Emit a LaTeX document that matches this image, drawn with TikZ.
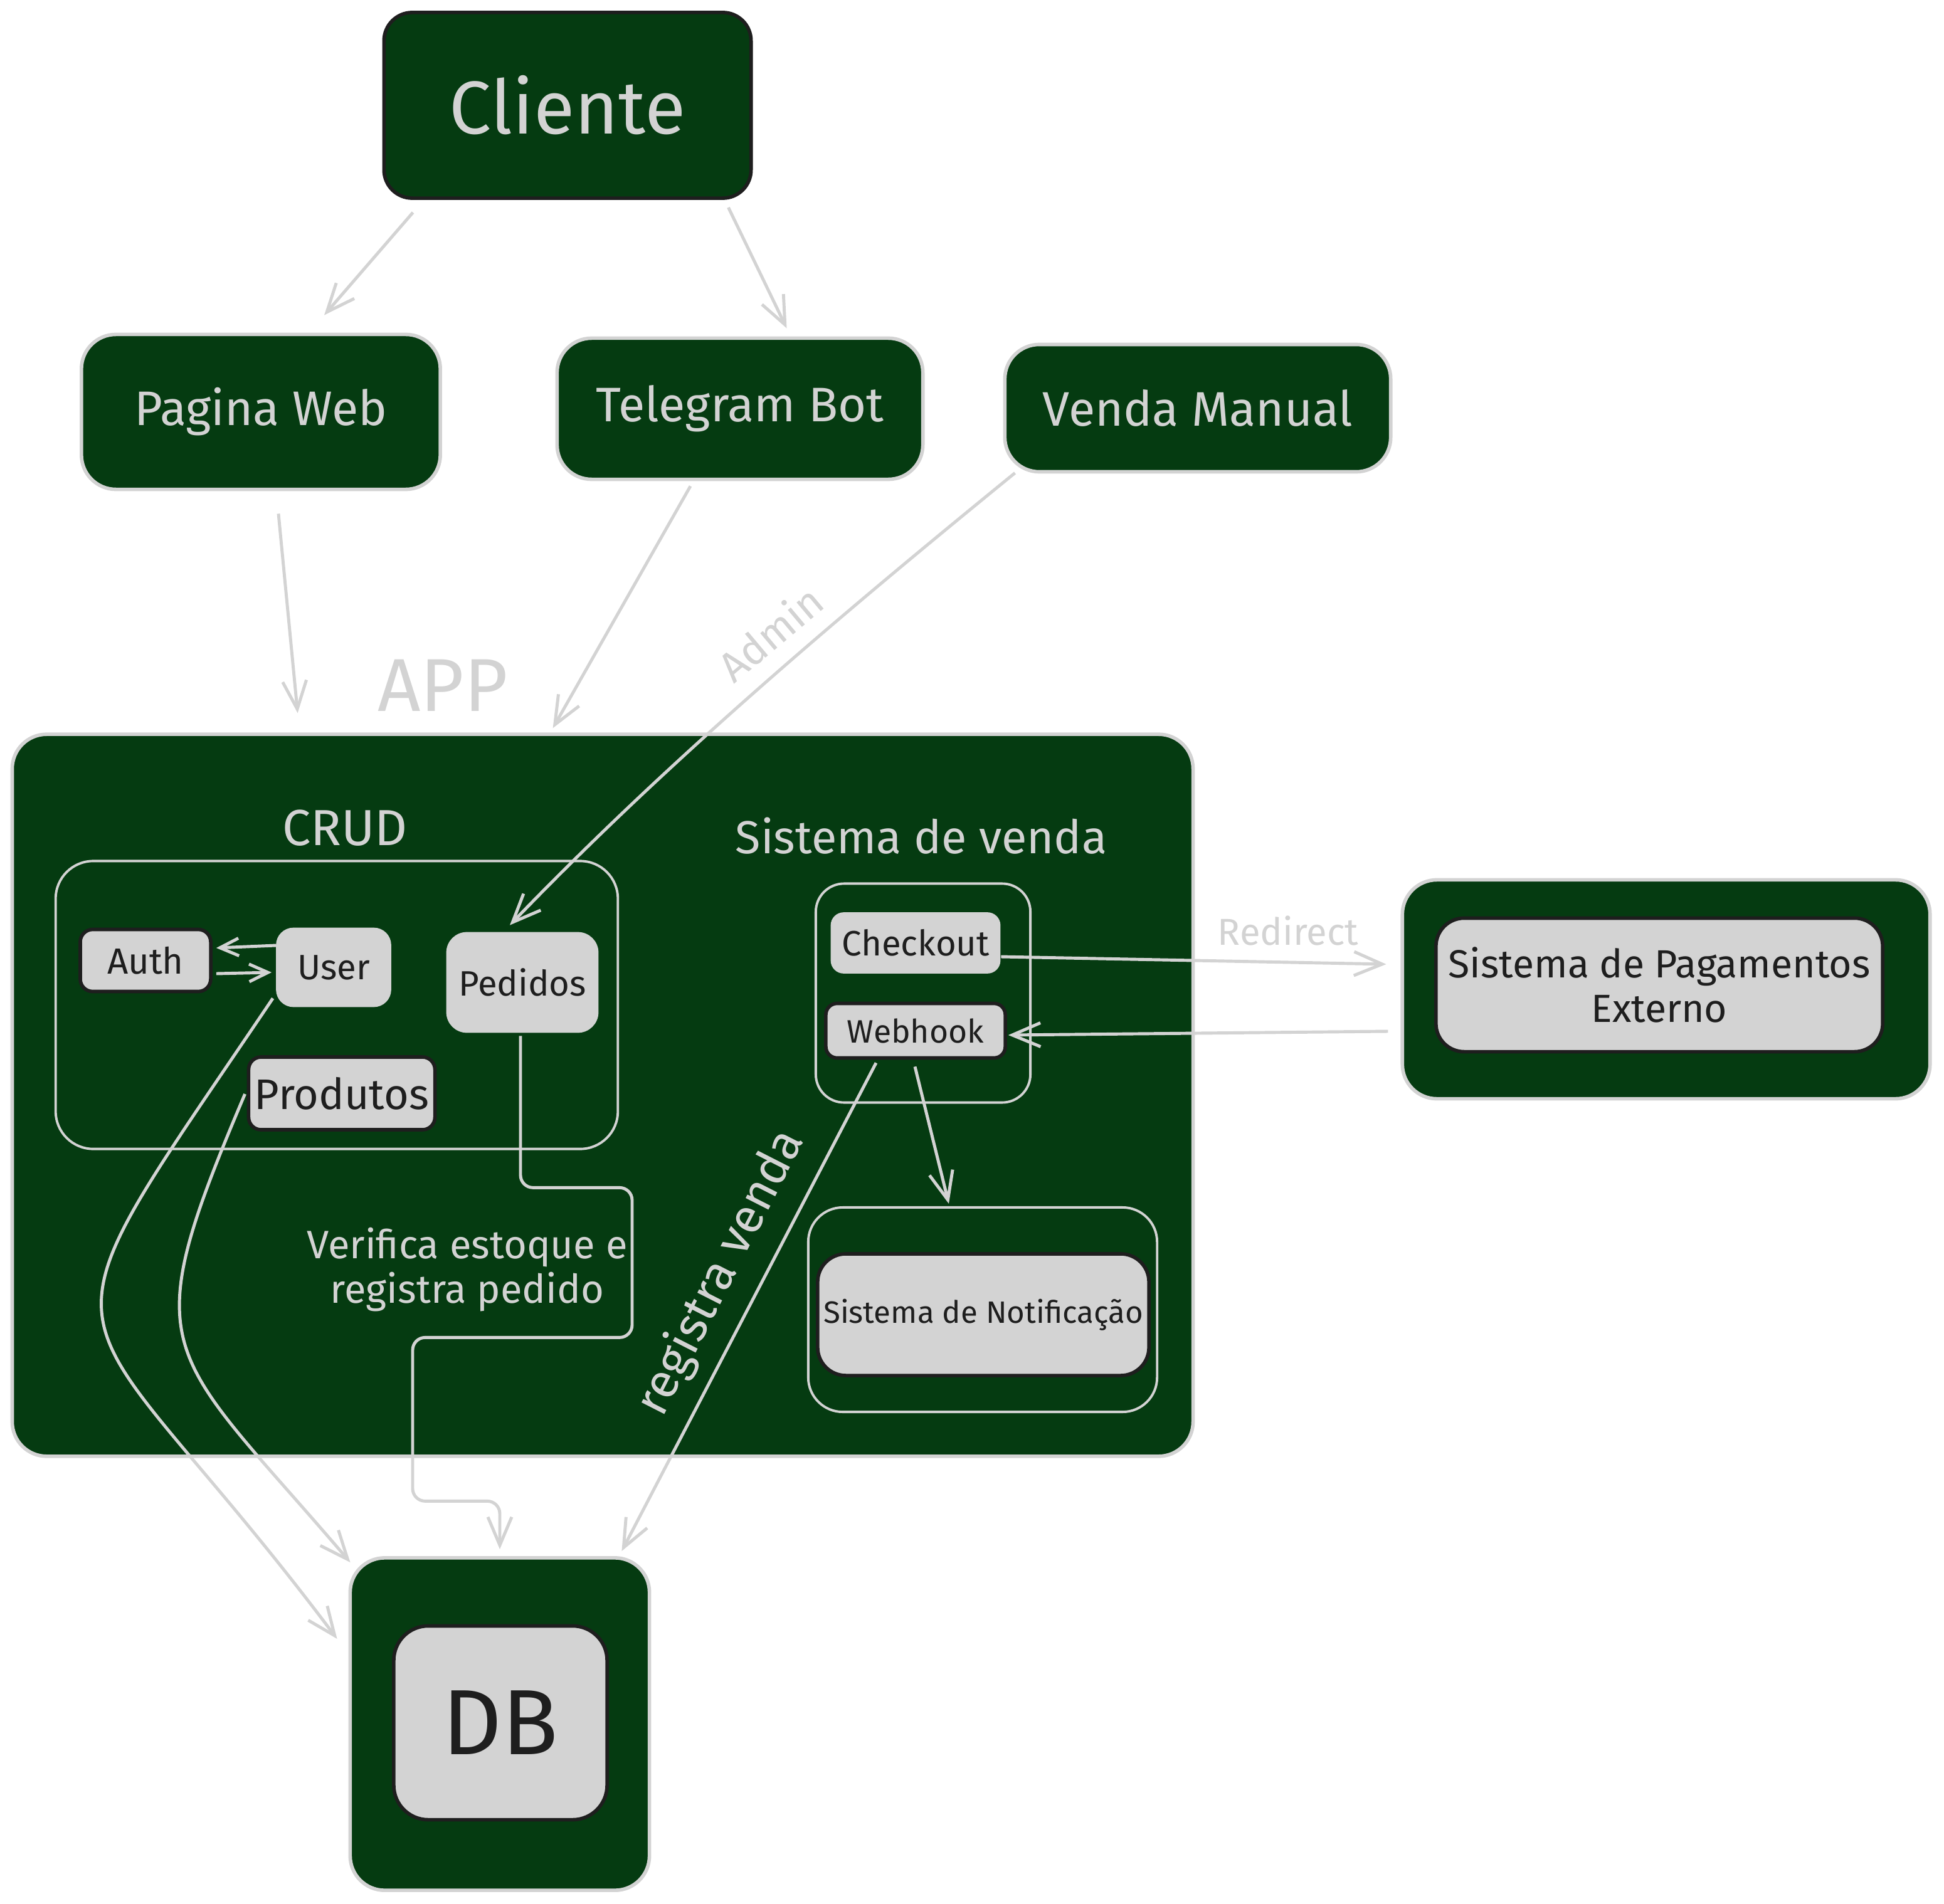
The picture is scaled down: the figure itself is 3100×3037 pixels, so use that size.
\documentclass[tikz,border=0pt]{standalone}
\usepackage{fontspec}
\setmainfont{Fira Sans}
\setsansfont{Fira Sans}
\usetikzlibrary{calc,arrows.meta}
\definecolor{mato}{HTML}{053B11}
\definecolor{cinza}{HTML}{D3D3D3}
\definecolor{tinta}{HTML}{1E1E1E}

\begin{document}
\begin{tikzpicture}[x=0.01cm, y=-0.01cm, font=\sffamily,
  verde/.style={fill=mato, draw=cinza, line width=1.6pt, rounded corners=0.55cm,
    text=cinza, inner sep=0},
  caixa/.style={fill=cinza, draw=tinta, line width=1.6pt, rounded corners=0.2cm,
    text=tinta, inner sep=0},
  moldura/.style={draw=cinza, line width=1.1pt, rounded corners=0.5cm},
  rotulo/.style={text=cinza, inner sep=0},
  seta/.style={draw=cinza, line width=1.4pt,
    -{Straight Barb[length=4.5mm, width=3.8mm, line width=1.4pt]}},
  setinha/.style={draw=cinza, line width=1.4pt,
    -{Straight Barb[length=3mm, width=2.8mm, line width=1.4pt]}},
]

\useasboundingbox (0,0) rectangle (3100,3037);

% ---- client and entry channels
\node[verde, draw=tinta, minimum width=5.85cm, minimum height=2.96cm,
      rounded corners=0.45cm, font=\fontsize{34}{40}\selectfont]
  (cliente) at (905,168) {Cliente};

\foreach \nome/\cx/\cy/\w/\h/\txt in {%
  pweb/416/657/5.72/2.47/{Pagina Web},
  tbot/1180/652/5.83/2.25/{Telegram Bot},
  vmanual/1910/651/6.15/2.03/{Venda Manual}%
}{
  \node[verde, minimum width=\w cm, minimum height=\h cm,
        font=\fontsize{22}{26}\selectfont] (\nome) at (\cx,\cy) {\txt};
}

% ---- app
\node[verde, minimum width=18.82cm, minimum height=11.51cm] (app)
  at (961,1747) {};
\node[rotulo, font=\fontsize{34}{40}\selectfont] (applbl) at (706,1093) {APP};

% crud block
\node[rotulo, font=\fontsize{23}{27}\selectfont] (crudlbl) at (550,1321) {CRUD};
\node[moldura, minimum width=8.96cm, minimum height=4.59cm,
      rounded corners=0.6cm] (crud) at (537,1603) {};
\node[caixa, minimum width=2.08cm, minimum height=0.99cm,
      font=\fontsize{16.5}{20}\selectfont] (auth) at (232,1532) {Auth};
\node[caixa, draw=cinza, minimum width=1.78cm, minimum height=1.21cm,
      rounded corners=0.25cm, font=\fontsize{16}{20}\selectfont]
  (user) at (532,1543) {User};
\node[caixa, draw=cinza, minimum width=2.37cm, minimum height=1.55cm,
      rounded corners=0.3cm, font=\fontsize{16}{20}\selectfont]
  (pedidos) at (833,1567) {Pedidos};
\node[caixa, minimum width=2.97cm, minimum height=1.16cm,
      font=\fontsize{19.4}{23}\selectfont] (produtos) at (545,1744) {Produtos};

% sales block
\node[rotulo, font=\fontsize{21}{25}\selectfont] (vendalbl) at (1469,1333)
  {Sistema de venda};
\node[moldura, minimum width=3.42cm, minimum height=3.49cm,
      rounded corners=0.45cm] (venda) at (1472,1584) {};
\node[caixa, draw=cinza, minimum width=2.65cm, minimum height=0.92cm,
      rounded corners=0.18cm, font=\fontsize{16}{20}\selectfont]
  (checkout) at (1460,1504) {Checkout};
\node[caixa, minimum width=2.86cm, minimum height=0.87cm,
      rounded corners=0.18cm, font=\fontsize{14.7}{18}\selectfont]
  (webhook) at (1460,1644) {Webhook};
\node[moldura, minimum width=5.56cm, minimum height=3.26cm,
      rounded corners=0.55cm] (notifbox) at (1567,2089) {};
\node[caixa, minimum width=5.28cm, minimum height=1.94cm,
      rounded corners=0.45cm, font=\fontsize{14}{17}\selectfont]
  (notif) at (1568,2097) {Sistema de Notificação};

% ---- external payment and database
\node[verde, minimum width=8.41cm, minimum height=3.49cm] (pag)
  at (2657,1578) {};
\node[caixa, minimum width=7.12cm, minimum height=2.13cm,
      rounded corners=0.45cm, align=center, font=\fontsize{17.8}{20}\selectfont]
  (pagin) at (2646,1571) {Sistema de Pagamentos\\Externo};

\node[verde, minimum width=4.77cm, minimum height=5.30cm] (db)
  at (797,2750) {};
\node[caixa, minimum width=3.40cm, minimum height=3.09cm,
      rounded corners=0.55cm, font=\fontsize{42}{48}\selectfont]
  (dbin) at (798,2748) {DB};

% ---- connector labels
\node[rotulo, font=\fontsize{17}{20}\selectfont] (redirlbl) at (2054,1485)
  {Redirect};
\node[rotulo, align=center, font=\fontsize{18}{20}\selectfont] (estoquelbl)
  at (745,2025) {Verifica estoque e\\registra pedido};
\node[rotulo, rotate=40, font=\fontsize{19}{22}\selectfont] (adminlbl)
  at (1228,1010) {Admin};
\node[rotulo, rotate=63, font=\fontsize{22}{26}\selectfont] (regvendalbl)
  at (1150,2030) {registra venda};

% ---- connectors
\draw[seta] ($(cliente.south west)+(49,20)$) -- ($(pweb.north west)+(390,-28)$);
\draw[seta] ($(cliente.south east)+(-39,12)$) -- ($(tbot.north west)+(369,-13)$);
\draw[seta] ($(pweb.south west)+(317,36)$) -- ($(app.north west)+(458,-31)$);
\draw[seta] ($(tbot.south)+(-79,8)$) -- ($(app.north west)+(865,-7)$);
\draw[seta] ($(vmanual.south west)+(19,-1)$)
  .. controls +(-281,229) and +(252,-262) .. ($(pedidos.north)+(-20,-11)$);

\draw[setinha] ($(user.west)+(0,-35)$) -- ($(auth.east)+(6,-20)$);
\draw[setinha] ($(auth.east)+(6,21)$) -- ($(user.west)+(-7,8)$);

\draw[seta] ($(user.south west)+(-5,-14)$)
  .. controls +(-413,612) and +(-443,-590) .. ($(db.north west)+(-18,132)$);
\draw[seta] ($(produtos.west)+(-3,1)$)
  .. controls +(-179,422) and +(-298,-349) .. ($(db.north west)+(3,10)$);
\draw[seta, rounded corners=0.2cm] ($(pedidos.south)+(-3,5)$)
  -- ++(0,242) -- ++(178,0) -- ++(0,239) -- ++(-350,0) -- ++(0,261)
  -| ($(db.north)+(0,-11)$);
\draw[seta] ($(webhook.south)+(-63,5)$) -- ($(db.north east)+(-47,-8)$);
\draw[seta] ($(webhook.south)+(-1,11)$) -- ($(notifbox.north)+(-54,-4)$);

\draw[seta] ($(checkout.east)+(1,22)$) -- ($(pag.west)+(-23,-40)$);
\draw[seta] ($(pag.west)+(-20,67)$) -- ($(webhook.east)+(2,7)$);

\end{tikzpicture}
\end{document}
